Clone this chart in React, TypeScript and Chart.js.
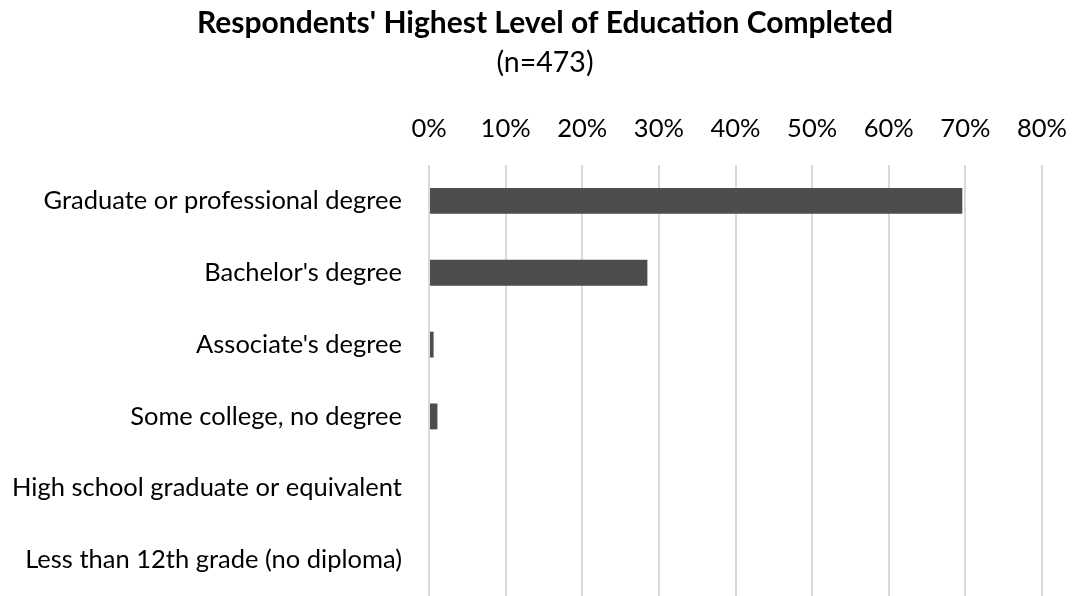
import React, { useEffect, useRef } from "react";
import { Chart, registerables } from "chart.js";

Chart.register(...registerables);

const categories = [
  "Graduate or professional degree",
  "Bachelor's degree",
  "Associate's degree",
  "Some college, no degree",
  "High school graduate or equivalent",
  "Less than 12th grade (no diploma)",
];
const percentages = [69.6, 28.5, 0.6, 1.1, 0, 0];
const axisMax = 80;
const axisStep = 10;
const titleText = "Respondents' Highest Level of Education Completed";
const subtitleText = "(n=473)";

const FONT = "Lato, 'Open Sans', sans-serif";

export default function App() {
  const ref = useRef<HTMLCanvasElement | null>(null);
  useEffect(() => {
    if (!ref.current) return;
    const chart = new Chart(ref.current, {
      type: "bar",
      data: {
        labels: categories,
        datasets: [
          {
            data: percentages,
            backgroundColor: "#4d4d4d",
            borderWidth: 0,
            categoryPercentage: 1,
            barPercentage: 0.36,
          },
        ],
      },
      options: {
        indexAxis: "y",
        animation: false,
        responsive: false,
        maintainAspectRatio: false,
        layout: { padding: 0 },
        plugins: {
          legend: { display: false },
          tooltip: { enabled: false },
          title: {
            display: true,
            text: titleText,
            color: "#000",
            font: { family: FONT, size: 30, weight: "bold", lineHeight: 1.2 },
            padding: { top: 5, bottom: 3 },
          },
          subtitle: {
            display: true,
            text: subtitleText,
            color: "#000",
            font: { family: FONT, size: 28.5, lineHeight: 1.2 },
            padding: { top: 2, bottom: 0 },
          },
        },
        scales: {
          x: {
            position: "top",
            min: 0,
            max: axisMax,
            ticks: {
              stepSize: axisStep,
              color: "#000",
              font: { family: FONT, size: 25.5 },
              padding: 21,
              callback: (v: any) => `${v}%`,
            },
            grid: { color: "#d9d9d9", lineWidth: 2, drawTicks: false },
            border: { display: false },
            afterFit: (s: any) => {
              s.height = 84.8;
              s.paddingLeft = 0;
              s.paddingRight = 48;
            },
          },
          y: {
            ticks: {
              color: "#000",
              font: { family: FONT, size: 25.5 },
              padding: 27,
            },
            grid: { display: false, drawTicks: false },
            border: { display: false },
            afterFit: (s: any) => {
              s.width = 429;
              s.paddingTop = 0;
              s.paddingBottom = 0;
            },
          },
        },
      },
    });
    return () => chart.destroy();
  }, []);
  return (
    <div
      style={{
        position: "fixed",
        left: 0,
        top: 0,
        width: 1074,
        height: 596,
        overflow: "hidden",
        background: "#fff",
      }}
    >
      <canvas ref={ref} width={1090} height={596} style={{ display: "block" }} />
    </div>
  );
}
